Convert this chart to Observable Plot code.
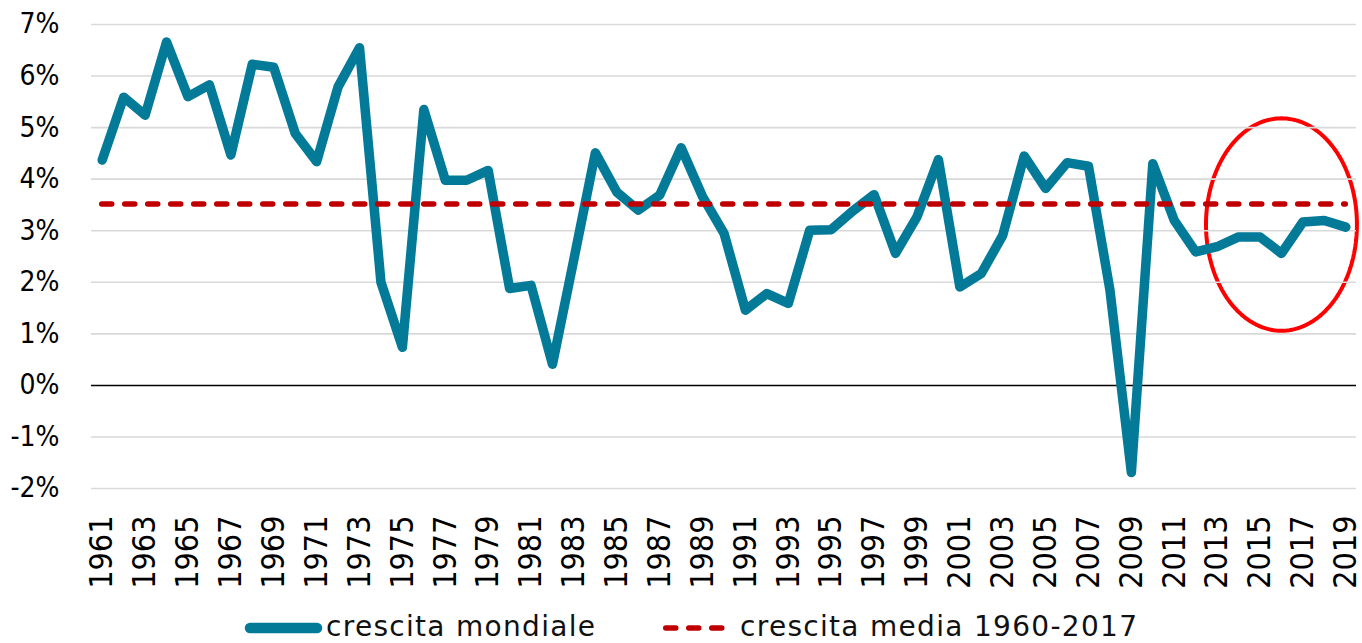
<!DOCTYPE html>
<html>
<head>
<meta charset="utf-8">
<script src="https://cdn.jsdelivr.net/npm/d3@7"></script>
<script src="https://cdn.jsdelivr.net/npm/@observablehq/plot@0.6"></script>
<style>
  body { margin: 0; background: #fff; }
  #chart svg { display: block; }
  #legend { position: relative; width: 1362px; height: 43px; font-family: "DejaVu Sans", Verdana, sans-serif; font-size: 28px; letter-spacing: 1.3px; color: #111; }
  #legend svg, #legend span { position: absolute; }
  #legend span { line-height: 28px; top: 13px; white-space: nowrap; }
</style>
</head>
<body>
<div id="chart"></div>
<div id="legend"></div>
<script>
// ---- data ----
const years = d3.range(1961, 2020);
const growth = [
  4.37, 5.59, 5.24, 6.66, 5.60, 5.83, 4.47, 6.23, 6.17, 4.89,
  4.34, 5.79, 6.55, 2.00, 0.74, 5.35, 3.98, 3.98, 4.17, 1.88,
  1.94, 0.41, 2.45, 4.51, 3.75, 3.40, 3.69, 4.61, 3.66, 2.95,
  1.46, 1.78, 1.59, 3.01, 3.02, 3.38, 3.70, 2.56, 3.27, 4.38,
  1.91, 2.17, 2.91, 4.45, 3.82, 4.32, 4.25, 1.85, -1.69, 4.30,
  3.20, 2.59, 2.69, 2.88, 2.88, 2.56, 3.17, 3.20, 3.07
];
const meanGrowth = 3.52;            // crescita media 1960-2017
const yTicks = [-2, -1, 0, 1, 2, 3, 4, 5, 6, 7];
const xTicks = d3.range(1961, 2020, 2);
const seriesLabels = ["crescita mondiale", "crescita media 1960-2017"];
// highlight ellipse (data space): centre year, centre value, radii
const ellipseCx = 2016, ellipseCy = 3.12, ellipseRx = 3.52, ellipseRy = 2.06;

const teal = "#037a98";
const red = "#c00000";

const rows = years.map((year, i) => ({year, value: growth[i]}));
const ellipsePts = d3.range(0, 361, 2).map(a => {
  const t = a * Math.PI / 180;
  return {x: ellipseCx + ellipseRx * Math.cos(t), y: ellipseCy + ellipseRy * Math.sin(t)};
});

const narrow = "'Liberation Sans Narrow', 'DejaVu Sans Condensed', 'Liberation Sans', sans-serif";

const chart = Plot.plot({
  width: 1362,
  height: 600,
  marginLeft: 91,
  marginRight: 6,
  marginTop: 24,
  marginBottom: 112,
  style: {background: "#fff", overflow: "visible"},
  x: {domain: [1960.5, 2019.5]},
  y: {domain: [-2, 7]},
  marks: [
    Plot.line(ellipsePts, {x: "x", y: "y", stroke: "#ff0000", strokeWidth: 4, curve: "linear"}),
    Plot.ruleY(yTicks.filter(d => d !== 0), {stroke: "#d9d9d9", strokeWidth: 1.6}),
    Plot.ruleY([0], {stroke: "#000", strokeWidth: 1.5}),
    Plot.line(rows, {x: "year", y: "value", stroke: teal, strokeWidth: 9.5, strokeLinejoin: "round", strokeLinecap: "round"}),
    Plot.ruleY([meanGrowth], {x1: years[0], x2: years[years.length - 1], stroke: red, strokeWidth: 5.5, strokeDasharray: "10 13", strokeLinecap: "round"}),
    Plot.axisY(yTicks, {tickSize: 0, tickPadding: 32, tickFormat: d => d + "%", fontSize: 28, fontFamily: narrow, fill: "#000"}),
    Plot.axisX(xTicks, {tickSize: 0, tickPadding: 27, tickRotate: -90, tickFormat: d => String(d), fontSize: 32, fontFamily: narrow, fill: "#000"})
  ]
});
document.getElementById("chart").appendChild(chart);

// ---- legend ----
const legend = document.getElementById("legend");
legend.innerHTML = `
  <svg style="left:240px;top:0" width="90" height="43"><line x1="10" y1="28" x2="77" y2="28" stroke="${teal}" stroke-width="10.5" stroke-linecap="round"/></svg>
  <span style="left:326px">${seriesLabels[0]}</span>
  <svg style="left:660px;top:0" width="70" height="43"><line x1="5.75" y1="28" x2="62.25" y2="28" stroke="${red}" stroke-width="5.5" stroke-dasharray="10 13" stroke-linecap="round"/></svg>
  <span style="left:740px">${seriesLabels[1]}</span>`;
</script>
</body>
</html>
